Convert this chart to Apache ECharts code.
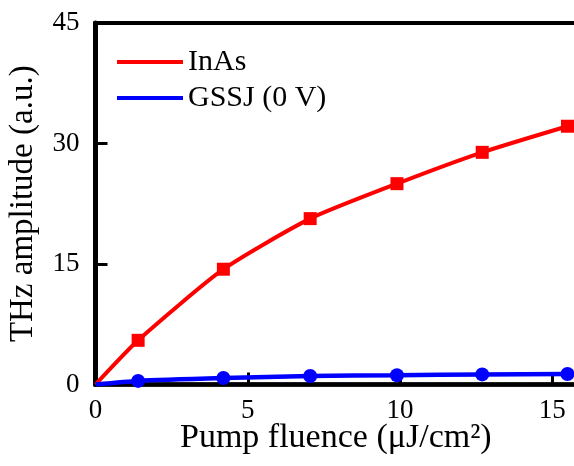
<!DOCTYPE html>
<html>
<head>
<meta charset="utf-8">
<script src="https://cdn.jsdelivr.net/npm/echarts@6/dist/echarts.min.js"></script>
<style>html,body{margin:0;padding:0;background:#fff}#c{width:574px;height:466px}</style>
</head>
<body>
<div id="c"></div>
<script>
const fluence = [0, 1.4, 4.2, 7.05, 9.9, 12.7, 15.5];
const inasAmp = [0, 5.5, 14.35, 20.65, 25.0, 28.9, 32.15];
const gssjAmp = [0, 0.45, 0.8, 1.06, 1.16, 1.26, 1.31];
const seriesNames = ['InAs', 'GSSJ (0 V)'];
const xTitle = 'Pump fluence (μJ/cm²)';
const yTitle = 'THz amplitude (a.u.)';

const FONT = '"Liberation Serif", "Times New Roman", serif';
function pairs(xs, ys) {
  return xs.map((x, i) => ({
    value: [x, ys[i]],
    symbol: i === 0 ? 'none' : undefined
  }));
}
const chart = echarts.init(document.getElementById('c'), null, {renderer: 'canvas'});
chart.setOption({
  animation: false,
  backgroundColor: '#fff',
  title: {
    text: xTitle,
    left: 180,
    top: 421,
    padding: 0,
    textStyle: {fontFamily: FONT, fontSize: 34, fontWeight: 'normal', color: '#000'}
  },
  legend: {
    left: 117,
    top: 47,
    orient: 'vertical',
    padding: 0,
    itemWidth: 66,
    itemHeight: 4,
    itemGap: 6,
    icon: 'rect',
    data: seriesNames,
    textStyle: {fontFamily: FONT, fontSize: 30, color: '#000', lineHeight: 30}
  },
  grid: {
    left: 95.5,
    top: 23,
    width: 609,
    height: 361.5,
    show: true,
    borderColor: '#000',
    borderWidth: 4,
    containLabel: false,
    outerBoundsMode: 'none'
  },
  xAxis: {
    type: 'value',
    min: 0, max: 20, interval: 5,
    axisLine: {lineStyle: {color: '#000', width: 4.5}},
    axisTick: {inside: true, length: 12, lineStyle: {color: '#000', width: 3}},
    axisLabel: {fontFamily: FONT, fontSize: 27, color: '#000', margin: 13},
    splitLine: {show: false}
  },
  yAxis: {
    type: 'value',
    min: 0, max: 45, interval: 15,
    name: yTitle,
    nameLocation: 'middle',
    nameGap: 56,
    nameTextStyle: {fontFamily: FONT, fontSize: 33, color: '#000'},
    axisLine: {lineStyle: {color: '#000', width: 5}},
    axisTick: {inside: true, length: 12, lineStyle: {color: '#000', width: 3}},
    axisLabel: {fontFamily: FONT, fontSize: 27, color: '#000', margin: 16},
    splitLine: {show: false}
  },
  series: [
    {
      name: seriesNames[0],
      type: 'line',
      smooth: 0.2,
      data: pairs(fluence, inasAmp),
      symbol: 'rect',
      symbolSize: 13,
      lineStyle: {color: '#ff0000', width: 4},
      itemStyle: {color: '#ff0000'}
    },
    {
      name: seriesNames[1],
      type: 'line',
      smooth: 0.2,
      data: pairs(fluence, gssjAmp),
      symbol: 'circle',
      symbolSize: 14,
      lineStyle: {color: '#0000ff', width: 4.5},
      itemStyle: {color: '#0000ff'}
    }
  ]
});
</script>
</body>
</html>
